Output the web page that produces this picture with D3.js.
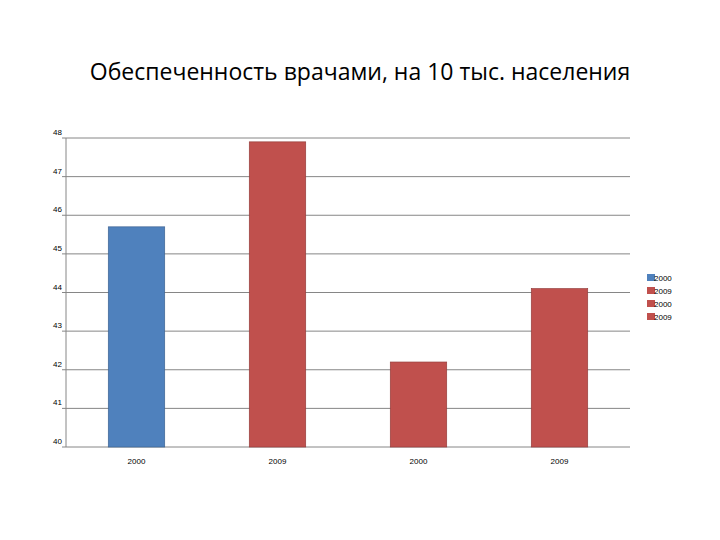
<!DOCTYPE html><html><head><meta charset="utf-8"><script src="https://cdn.jsdelivr.net/npm/d3@7"></script>
<style>body{margin:0;background:#fff}</style></head><body><svg width="720" height="540"></svg>
<script>
const categories=["2000","2009","2000","2009"];
const values=[45.7,47.9,42.2,44.1];
const colors=["#4f81bd","#c0504d","#c0504d","#c0504d"];
const yTicks=[40,41,42,43,44,45,46,47,48];
const svg=d3.select("svg");
const L=66,R=630,T=138,B=447;
const x=d3.scaleBand().domain(d3.range(4)).range([L,R]).paddingInner(0.6).paddingOuter(0.3);
const y=d3.scaleLinear().domain([40,48]).range([B,T]);
svg.append("text").attr("x",360).attr("y",80).attr("text-anchor","middle").attr("font-family","Open Sans, sans-serif").attr("font-size",23).attr("fill","#000").text("Обеспеченность врачами, на 10 тыс. населения");
svg.append("g").selectAll("line").data(yTicks).join("line").attr("x1",L-4).attr("x2",R).attr("y1",d=>y(d)).attr("y2",d=>y(d)).attr("stroke","#868686");
svg.append("line").attr("x1",L).attr("x2",L).attr("y1",T).attr("y2",B).attr("stroke","#868686");
svg.append("g").selectAll("text").data(yTicks).join("text").attr("x",L-4).attr("y",d=>y(d)-3).attr("text-anchor","end").attr("font-family","Liberation Sans, sans-serif").attr("font-size",8).text(d=>d);
svg.append("g").selectAll("rect").data(values).join("rect").attr("x",(d,i)=>x(i)).attr("width",x.bandwidth()).attr("y",d=>y(d)).attr("height",d=>B-y(d)).attr("fill",(d,i)=>colors[i]).attr("stroke",(d,i)=>d3.color(colors[i]).darker(0.7)).attr("stroke-width",0.7);
svg.append("g").selectAll("text").data(categories).join("text").attr("x",(d,i)=>x(i)+x.bandwidth()/2).attr("y",464).attr("text-anchor","middle").attr("font-family","Liberation Sans, sans-serif").attr("font-size",8).text(d=>d);
const lg=svg.append("g").selectAll("g").data(categories).join("g").attr("transform",(d,i)=>`translate(647,${274+i*13})`);
lg.append("rect").attr("width",8).attr("height",7).attr("fill",(d,i)=>colors[i]);
lg.append("text").attr("x",7).attr("y",7).attr("font-family","Liberation Sans, sans-serif").attr("font-size",8).text(d=>d);
</script></body></html>
